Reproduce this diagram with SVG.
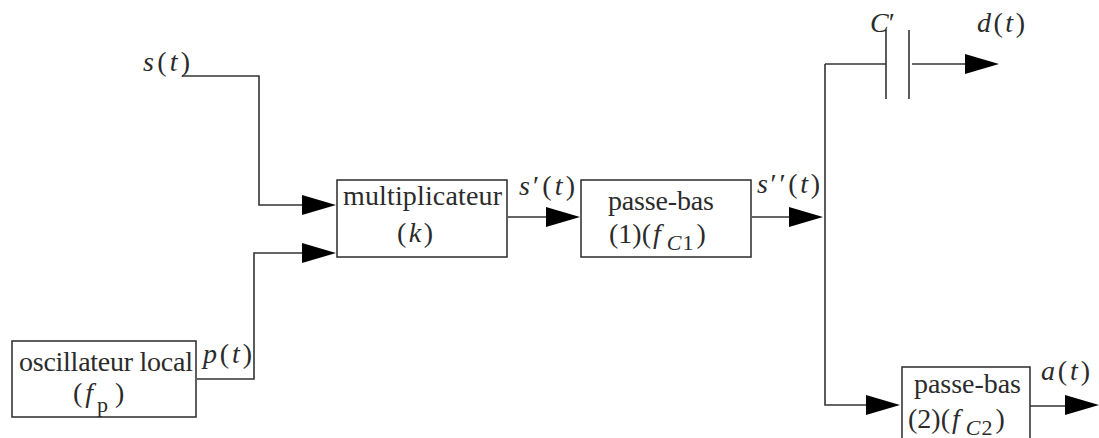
<svg xmlns="http://www.w3.org/2000/svg" width="1099" height="438" viewBox="0 0 1099 438">
<style>
.b{fill:#fff;stroke:#2a2a2a;stroke-width:1.5}
.c{fill:none;stroke:#333;stroke-width:1.6}
.k{fill:#000;stroke:none}
text{font-family:"Liberation Serif",serif;font-size:28px;fill:#2b2b2b}
.i{font-style:italic}
.s{font-size:22px}
</style>
<defs><polygon id="a" class="k" points="-34,-10 0,0 -34,10"/></defs>
<rect width="1099" height="438" fill="#fff"/>
<g id="connectors">
<path class="c" d="M182,76H259V205H302"/>
<path class="c" d="M197,379H254V253H302"/>
<path class="c" d="M508,217H546"/>
<path class="c" d="M752,217H790"/>
<path class="c" d="M825,64V405H868"/>
<path class="c" d="M825,64H886"/>
<path class="c" d="M912,64H965"/>
<path class="c" d="M886,30V99M909,30V99"/>
<path class="c" d="M1030,406H1072"/>
<use href="#a" x="336" y="205"/>
<use href="#a" x="336" y="253"/>
<use href="#a" x="580" y="217"/>
<use href="#a" x="823" y="217"/>
<use href="#a" x="999" y="64"/>
<use href="#a" x="900" y="405"/>
<use href="#a" x="1099" y="405"/>
</g>
<g id="osc"><rect class="b" x="12" y="341" width="184" height="76"/>
<text x="19" y="371" textLength="174">oscillateur local</text>
<text x="73" y="402">(<tspan class="i" dx="3">f</tspan><tspan class="s" dx="4" dy="10">p</tspan><tspan dx="7" dy="-10">)</tspan></text></g>
<g id="mult"><rect class="b" x="337" y="180" width="170" height="77"/>
<text x="343" y="205" textLength="159">multiplicateur</text>
<text x="397" y="242" textLength="36">(<tspan class="i">k</tspan>)</text></g>
<g id="pb1"><rect class="b" x="581" y="180" width="170" height="77"/>
<text x="608" y="210" textLength="106">passe-bas</text>
<text x="609" y="243">(1)(<tspan class="i" dx="2">f</tspan><tspan class="s i" dx="6" dy="7">C</tspan><tspan class="s" dx="1">1</tspan><tspan dx="3" dy="-7">)</tspan></text></g>
<g id="pb2"><path class="b" d="M902,438V367H1030V438"/>
<text x="914" y="393" textLength="107">passe-bas</text>
<text x="908" y="428">(2)(<tspan class="i" dx="2">f</tspan><tspan class="s i" dx="6" dy="7">C</tspan><tspan class="s" dx="1">2</tspan><tspan dx="3" dy="-7">)</tspan></text></g>
<g id="labels">
<text x="143" y="71" textLength="47"><tspan class="i">s</tspan>(<tspan class="i">t</tspan>)</text>
<text x="203" y="363" textLength="49"><tspan class="i">p</tspan>(<tspan class="i">t</tspan>)</text>
<text x="519" y="195" textLength="56"><tspan class="i">s</tspan>′(<tspan class="i">t</tspan>)</text>
<text x="757" y="193" textLength="63"><tspan class="i">s</tspan>′′(<tspan class="i">t</tspan>)</text>
<text x="870" y="32"><tspan class="i">C</tspan>′</text>
<text x="977" y="32" textLength="48"><tspan class="i">d</tspan>(<tspan class="i">t</tspan>)</text>
<text x="1041" y="380" textLength="49"><tspan class="i">a</tspan>(<tspan class="i">t</tspan>)</text>
</g>
</svg>
